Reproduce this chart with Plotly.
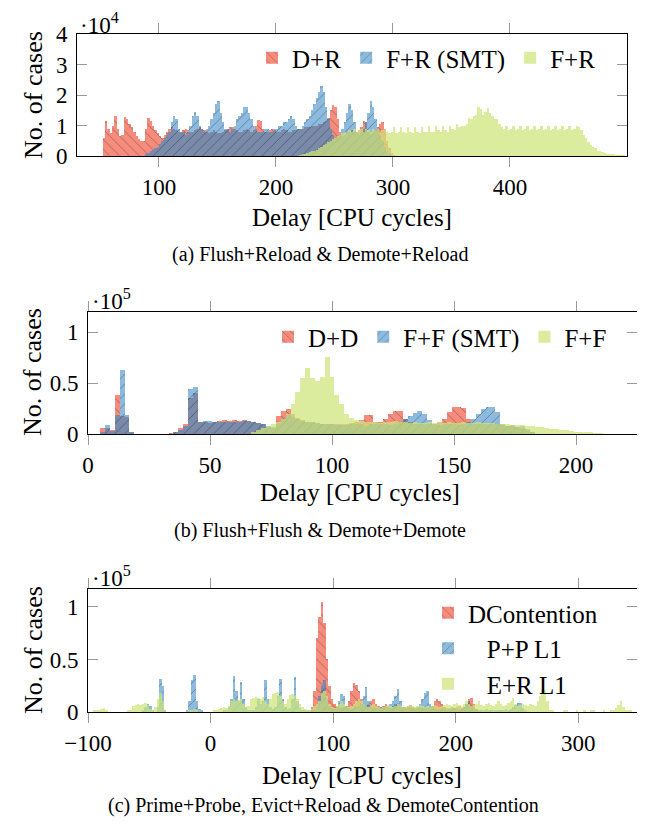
import plotly.graph_objects as go

W, H = 645, 825
BIN = 2
OFF = 8  # the page body margin shifts the figure by this many pixels

# ---------------- Panel (a): values in units of 10^4 ----------------
A_DR_START = 52
A_DR = [0.6, 1.15, 0.9, 0.75, 1.0, 1.3, 0.9, 0.65, 0.7, 1.28,
        1.2, 1.05, 0.95, 0.8, 0.65, 0.55, 0.5, 0.5, 0.9, 1.25,
        1.15, 1.0, 0.85, 0.75, 0.65, 0.6, 0.7, 0.8, 0.9, 0.95,
        0.9, 0.85, 0.8, 0.8, 0.85, 0.9, 0.85, 0.8, 0.8, 0.85,
        0.9, 0.95, 0.9, 0.85, 0.8, 0.75, 0.8, 0.85, 0.8, 0.75,
        0.75, 0.8, 0.85, 0.9, 0.95, 0.95, 0.9, 0.85, 0.8, 0.8,
        0.85, 0.9, 0.85, 0.8, 0.85, 1.0, 1.18, 1.15, 0.9, 0.8,
        0.8, 0.85, 0.9, 0.85, 0.8, 0.8, 0.85, 0.9, 0.85, 0.8,
        0.8, 0.85, 0.85, 0.9, 0.9, 0.9, 0.95, 0.95, 0.95, 1.0,
        1.0, 1.0, 1.05, 1.05, 1.1, 1.15, 1.25, 1.5, 1.68, 1.6,
        1.2, 0.8, 0.65, 0.7, 0.75, 0.8, 0.85, 0.8, 0.8, 0.85,
        0.95, 1.15, 1.1, 0.8, 0.7, 0.75, 0.85, 0.95, 1.05, 1.1,
        0.9, 0.5, 0.25, 0.1, 0.03]

A_FRS_START = 88
A_FRS = [0.05, 0.1, 0.15, 0.2, 0.25, 0.3, 0.4, 0.5, 0.6, 0.7,
         0.8, 1.1, 1.3, 1.2, 0.9, 0.8, 0.8, 0.7, 0.8, 1.0,
         1.3, 1.45, 1.3, 1.0, 0.9, 0.8, 0.9, 1.0, 1.2, 1.4,
         1.7, 1.8, 1.4, 1.1, 0.9, 0.9, 0.8, 0.9, 1.0, 1.2,
         1.3, 1.4, 1.6, 1.6, 1.4, 1.2, 1.0, 0.9, 0.8, 0.8,
         0.8, 0.9, 0.9, 0.8, 0.8, 0.9, 0.9, 1.0, 1.0, 1.1,
         1.1, 1.2, 1.3, 1.2, 1.0, 0.9, 0.9, 1.0, 1.1, 1.2,
         1.3, 1.5, 1.7, 1.9, 2.1, 2.3, 2.1, 1.6, 1.2, 0.9,
         0.7, 0.6, 0.6, 0.7, 0.9, 1.1, 1.4, 1.7, 1.5, 1.1,
         0.8, 0.7, 0.8, 0.9, 1.1, 1.4, 1.8, 1.6, 1.2, 0.9,
         0.7, 0.5, 0.3, 0.15, 0.05]

A_FR_START = 220
A_FR = [0.02, 0.05, 0.08, 0.1, 0.12, 0.15, 0.18, 0.2, 0.25, 0.3,
        0.35, 0.4, 0.45, 0.5, 0.55, 0.6, 0.65, 0.7, 0.75, 0.8,
        0.75, 0.85, 0.8, 0.9, 0.8, 0.85, 0.9, 0.8, 0.9, 0.85,
        0.8, 0.9, 0.85, 0.9, 0.8, 0.85, 0.9, 0.8, 0.75, 0.8,
        0.95, 0.75, 0.8, 0.95, 0.8, 0.75, 0.95, 0.8, 0.75, 0.95,
        0.8, 0.75, 0.95, 0.8, 0.8, 1.0, 0.8, 0.8, 1.0, 0.85,
        0.8, 1.0, 0.85, 0.8, 1.0, 0.9, 0.85, 1.05, 0.95, 1.0,
        1.0, 1.05, 1.25, 1.2, 1.3, 1.35, 1.6, 1.55, 1.35, 1.45,
        1.57, 1.4, 1.3, 1.2, 1.2, 1.05, 0.96, 0.9, 1.0, 0.85,
        0.9, 1.0, 0.85, 0.9, 1.0, 0.85, 0.9, 1.0, 0.85, 0.9,
        1.0, 0.85, 0.9, 1.0, 0.85, 0.9, 1.0, 0.85, 0.9, 1.0,
        0.85, 0.9, 1.0, 0.85, 0.9, 1.0, 0.85, 0.9, 1.0, 0.95,
        0.85, 0.7, 0.6, 0.45, 0.35, 0.3, 0.25, 0.18, 0.15, 0.12,
        0.1, 0.08, 0.06, 0.05, 0.04, 0.03, 0.02, 0.01, 0.01]

# ---------------- Panel (b): values in units of 10^5 ----------------
B_DD_START = 3
B_DD = [0, 0.056, 0.06, 0.04, 0.38, 0.18, 0.17, 0.01, 0, 0,
        0, 0, 0, 0, 0, 0.005, 0.02, 0.06, 0.1, 0.35,
        0.4, 0.12, 0.12, 0.11, 0.12, 0.13, 0.14, 0.13, 0.14, 0.13,
        0.14, 0.13, 0.12, 0.11, 0.1, 0.07, 0.06, 0.18, 0.23, 0.25,
        0.2, 0.16, 0.14, 0.12, 0.12, 0.11, 0.1, 0.1, 0.1, 0.1,
        0.1, 0.1, 0.11, 0.12, 0.14, 0.19, 0.19, 0.12, 0.12, 0.15,
        0.2, 0.23, 0.23, 0.15, 0.12, 0.1, 0.1, 0.1, 0.1, 0.1,
        0.12, 0.15, 0.22, 0.27, 0.27, 0.26, 0.15, 0.1, 0.1, 0.1,
        0.1, 0.1, 0.1, 0.09, 0.08, 0.08, 0.07, 0.06, 0.04, 0.02]

B_FFS_START = 3
B_FFS = [0, 0.02, 0.09, 0.03, 0.19, 0.63, 0.19, 0.01, 0, 0,
         0, 0, 0, 0, 0, 0, 0.01, 0.04, 0.08, 0.44,
         0.46, 0.12, 0.13, 0.13, 0.12, 0.12, 0.12, 0.12, 0.12, 0.12,
         0.13, 0.13, 0.12, 0.11, 0.1, 0.08, 0.07, 0.1, 0.15, 0.19,
         0.17, 0.15, 0.13, 0.12, 0.12, 0.11, 0.1, 0.1, 0.1, 0.09,
         0.09, 0.09, 0.1, 0.1, 0.1, 0.08, 0.1, 0.1, 0.1, 0.1,
         0.09, 0.1, 0.12, 0.15, 0.18, 0.21, 0.23, 0.2, 0.14, 0.1,
         0.09, 0.1, 0.1, 0.1, 0.09, 0.1, 0.12, 0.15, 0.2, 0.25,
         0.27, 0.27, 0.22, 0.1, 0.08, 0.09, 0.07, 0.08, 0.05, 0.01]

B_FF_START = 67
B_FF = [0.02, 0.04, 0.06, 0.08, 0.1, 0.12, 0.15, 0.2, 0.3, 0.41,
        0.55, 0.65, 0.55, 0.52, 0.56, 0.76, 0.56, 0.38, 0.3, 0.2,
        0.16, 0.14, 0.13, 0.12, 0.12, 0.12, 0.11, 0.12, 0.12, 0.13,
        0.12, 0.12, 0.11, 0.12, 0.11, 0.11, 0.12, 0.11, 0.12, 0.11,
        0.12, 0.11, 0.11, 0.12, 0.11, 0.11, 0.12, 0.11, 0.11, 0.11,
        0.1, 0.1, 0.1, 0.09, 0.09, 0.09, 0.08, 0.08, 0.07, 0.07,
        0.06, 0.05, 0.05, 0.04, 0.04, 0.03, 0.02, 0.02, 0.01, 0.01,
        0.005, 0.003]

# ---------------- Panel (c): values in units of 10^5 ----------------
C_DC_START = 82
C_DC = [0.05, 0.2, 0.7, 0.9, 1.05, 0.85, 0.5, 0.25, 0.12, 0.08,
        0.06, 0.05, 0.04, 0.05, 0.06, 0.1, 0.2, 0.28, 0.26, 0.2,
        0.12, 0.08, 0.06, 0.07, 0.1, 0.12, 0.08, 0.06, 0.05, 0.06,
        0.08, 0.05, 0.04, 0.06, 0.08, 0.06, 0.05, 0.04, 0.05, 0.06,
        0.07, 0.05, 0.04, 0.04, 0.05, 0.04, 0.03, 0.04, 0.05, 0.06,
        0.1, 0.12, 0.1, 0.08, 0.05, 0.04, 0.04, 0.03, 0.04, 0.05,
        0.06, 0.04, 0.05, 0.08, 0.12, 0.13, 0.08, 0.03]

C_PP_START = -56
C_PP = [0.02, 0.05, 0.08, 0.06, 0.02, 0, 0.05, 0.31, 0.25, 0.02,
        0, 0, 0, 0, 0, 0, 0, 0, 0.02, 0.1,
        0.3, 0.35, 0.1, 0.03, 0.02, 0, 0, 0, 0, 0,
        0, 0, 0, 0.01, 0.02, 0.05, 0.12, 0.34, 0.2, 0.1,
        0.29, 0.12, 0.05, 0.02, 0.01, 0.02, 0.05, 0.12, 0.08, 0.1,
        0.3, 0.12, 0.05, 0.03, 0.05, 0.15, 0.31, 0.12, 0.05, 0.03,
        0.04, 0.12, 0.33, 0.1, 0.04, 0.02, 0.02, 0.01, 0.01, 0.01,
        0.02, 0.05, 0.15, 0.25, 0.3, 0.12, 0.06, 0.04, 0.03, 0.05,
        0.1, 0.17, 0.15, 0.06, 0.04, 0.03, 0.04, 0.05, 0.06, 0.08,
        0.15, 0.24, 0.1, 0.05, 0.04, 0.03, 0.04, 0.05, 0.04, 0.05,
        0.06, 0.08, 0.1, 0.15, 0.22, 0.1, 0.05, 0.03, 0.04, 0.05,
        0.04, 0.03, 0.05, 0.08, 0.12, 0.18, 0.2, 0.08, 0.04, 0.03,
        0.02, 0.03, 0.04, 0.03, 0.02, 0.03, 0.05, 0.04, 0.03, 0.02,
        0.03, 0.05, 0.08, 0.1, 0.06, 0.03, 0.02, 0.02, 0.01, 0.02,
        0.03, 0.02, 0.01, 0.01, 0.02, 0.01, 0.01, 0.02, 0.03, 0.02,
        0.03, 0.05, 0.07, 0.09, 0.09, 0.04, 0.01]

C_ER_START = -96
C_ER = [0.01, 0.02, 0.01, 0.03, 0.04, 0.01, 0, 0, 0, 0,
        0, 0, 0, 0, 0.01, 0.02, 0.06, 0.07, 0.08, 0.07,
        0.08, 0.09, 0.07, 0.03, 0.02, 0.05, 0.12, 0.18, 0.1, 0.02,
        0, 0, 0, 0, 0, 0, 0, 0, 0, 0.01,
        0.02, 0.03, 0.01, 0, 0, 0, 0, 0, 0, 0.01,
        0.02, 0.03, 0.04, 0.05, 0.04, 0.06, 0.1, 0.12, 0.1, 0.11,
        0.12, 0.08, 0.05, 0.06, 0.12, 0.13, 0.14, 0.13, 0.12, 0.14,
        0.1, 0.08, 0.12, 0.17, 0.18, 0.19, 0.15, 0.1, 0.08, 0.12,
        0.16, 0.17, 0.15, 0.12, 0.08, 0.05, 0.03, 0.02, 0.02, 0.03,
        0.06, 0.08, 0.1, 0.18, 0.2, 0.15, 0.08, 0.05, 0.04, 0.06,
        0.08, 0.1, 0.08, 0.06, 0.05, 0.06, 0.08, 0.1, 0.12, 0.1,
        0.08, 0.06, 0.05, 0.06, 0.08, 0.06, 0.05, 0.04, 0.05, 0.06,
        0.07, 0.06, 0.05, 0.06, 0.08, 0.06, 0.05, 0.05, 0.06, 0.07,
        0.06, 0.05, 0.06, 0.07, 0.06, 0.05, 0.06, 0.05, 0.06, 0.07,
        0.06, 0.05, 0.06, 0.07, 0.08, 0.07, 0.06, 0.08, 0.09, 0.07,
        0.06, 0.08, 0.1, 0.08, 0.06, 0.07, 0.08, 0.1, 0.07, 0.06,
        0.08, 0.09, 0.07, 0.06, 0.08, 0.1, 0.08, 0.06, 0.07, 0.09,
        0.1, 0.13, 0.08, 0.06, 0.07, 0.08, 0.07, 0.06, 0.08, 0.07,
        0.06, 0.1, 0.15, 0.22, 0.21, 0.1, 0.02, 0.01, 0, 0,
        0, 0, 0.01, 0.01, 0, 0, 0, 0.01, 0, 0,
        0.01, 0, 0, 0.01, 0.01, 0, 0, 0, 0.01, 0,
        0, 0.01, 0.02, 0.04, 0.07, 0.1, 0.05, 0.02, 0.01, 0.01]

# ---------------- text ----------------
LEG_A = ["D+R", "F+R (SMT)", "F+R"]
LEG_B = ["D+D", "F+F (SMT)", "F+F"]
LEG_C = ["DContention", "   P+P L1", "   E+R L1"]
CAPTIONS = ["(a) Flush+Reload & Demote+Reload",
            "(b) Flush+Flush & Demote+Demote",
            "(c) Prime+Probe, Evict+Reload & DemoteContention"]
XTITLE = "Delay [CPU cycles]"
YTITLE = "No. of cases"

FONT = "Liberation Serif"
RED = "#F7806F"
BLUE = "#80B4DC"
GREEN = "#CFE57A"
MIXED = "#7A89A8"   # rendering of where the red and blue histograms overlap
HATCH = "rgba(45,45,45,0.9)"


def px(x):
    return (x - OFF) / W


def py(y):
    return 1 - (y - OFF) / H


def centers(start, vals):
    return [start + BIN * i + BIN / 2 for i in range(len(vals))]


fig = go.Figure()

styles = [(RED, "\\", 0.9), (BLUE, "/", 0.9), (GREEN, "", 0.72)]


def hatch(shape):
    return dict(shape=shape, fgcolor=HATCH, fillmode="overlay", size=7, solidity=0.14)


def add_panel(series, names, xa, ya, legend):
    traces = []
    for (start, vals), name, (col, shape, op) in zip(series, names, styles):
        traces.append(go.Bar(
            x=centers(start, vals), y=vals, width=BIN, name=name,
            xaxis=xa, yaxis=ya, legend=legend, legendgroup=legend + name,
            opacity=op,
            marker=dict(color=col, line=dict(width=0),
                        pattern=hatch(shape) if shape else dict(shape="")),
        ))
    # where the two hatched histograms overlap the reference shows a dark blend
    r = dict(zip(centers(*series[0]), series[0][1]))
    b = dict(zip(centers(*series[1]), series[1][1]))
    xs = sorted(set(r) & set(b))
    ov = go.Bar(x=xs, y=[min(r[k], b[k]) for k in xs], width=BIN, xaxis=xa, yaxis=ya,
                showlegend=False, hoverinfo="skip", opacity=0.95,
                marker=dict(color=MIXED, line=dict(width=0), pattern=hatch("/")))
    for t in (traces[0], traces[1], ov, traces[2]):
        fig.add_trace(t)


add_panel([(A_DR_START, A_DR), (A_FRS_START, A_FRS), (A_FR_START, A_FR)], LEG_A, "x", "y", "legend")
add_panel([(B_DD_START, B_DD), (B_FFS_START, B_FFS), (B_FF_START, B_FF)], LEG_B, "x2", "y2", "legend2")
add_panel([(C_DC_START, C_DC), (C_PP_START, C_PP), (C_ER_START, C_ER)], LEG_C, "x3", "y3", "legend3")

tickfont = dict(family=FONT, size=23, color="black")
xcommon = dict(showline=True, linecolor="black", linewidth=1, mirror="allticks",
               ticks="outside", ticklen=10, tickcolor="#9a9a9a", tickwidth=1,
               showgrid=False, zeroline=False, tickfont=tickfont, automargin=False)
ycommon = dict(showline=True, linecolor="black", linewidth=1, mirror="allticks",
               ticks="inside", ticklen=10, tickcolor="#9a9a9a", tickwidth=1,
               showgrid=False, zeroline=False, tickfont=tickfont, ticklabelstandoff=4,
               automargin=False)

doms = {
    "a": dict(x=[px(77), px(627)], y=[py(156), py(34)]),
    "b": dict(x=[px(88), px(637)], y=[py(434), py(312)]),
    "c": dict(x=[px(88), px(637)], y=[py(712), py(589)]),
}

legfont = dict(family=FONT, size=25, color="black")
fig.update_layout(
    template="none",
    width=W, height=H, autosize=False,
    margin=dict(l=0, r=0, t=0, b=0, pad=0, autoexpand=False),
    paper_bgcolor="white", plot_bgcolor="rgba(0,0,0,0)",
    barmode="overlay", bargap=0,
    font=dict(family=FONT, size=23, color="black"),
    showlegend=True,
    xaxis=dict(domain=doms["a"]["x"], anchor="y", range=[30, 500],
               tickvals=[100, 200, 300, 400], **xcommon),
    yaxis=dict(domain=doms["a"]["y"], anchor="x", range=[0, 4],
               tickvals=[0, 1, 2, 3, 4], **ycommon),
    xaxis2=dict(domain=doms["b"]["x"], anchor="y2", range=[0, 225],
                tickvals=[0, 50, 100, 150, 200], **xcommon),
    yaxis2=dict(domain=doms["b"]["y"], anchor="x2", range=[0, 1.2],
                tickvals=[0, 0.5, 1], ticktext=["0", "0.5", "1"], **ycommon),
    xaxis3=dict(domain=doms["c"]["x"], anchor="y3", range=[-100, 348],
                tickvals=[-100, 0, 100, 200, 300],
                ticktext=["\u2212100", "0", "100", "200", "300"], **xcommon),
    yaxis3=dict(domain=doms["c"]["y"], anchor="x3", range=[0, 1.17],
                tickvals=[0, 0.5, 1], ticktext=["0", "0.5", "1"], **ycommon),
    legend=dict(orientation="h", x=px(601), y=py(58), xanchor="right", yanchor="middle",
                bgcolor="rgba(0,0,0,0)", font=legfont, itemwidth=30),
    legend2=dict(orientation="h", x=px(612), y=py(337), xanchor="right", yanchor="middle",
                 bgcolor="rgba(0,0,0,0)", font=legfont, itemwidth=30),
    legend3=dict(orientation="v", x=px(428), y=py(590), xanchor="left", yanchor="top",
                 bgcolor="rgba(0,0,0,0)", font=legfont, itemwidth=30,
                 tracegroupgap=0),
)

ann = []
for (xpx, ypx, exp) in [(78, 23, "4"), (90, 299, "5"), (90, 576, "5")]:
    ann.append(dict(text="\u00b710<sup>%s</sup>" % exp, x=px(xpx), y=py(ypx), xref="paper",
                    yref="paper", xanchor="left", yanchor="middle", showarrow=False,
                    font=dict(family=FONT, size=23, color="black")))
for (xc, yc) in [(33, 95), (33, 372), (33, 650)]:
    ann.append(dict(text=YTITLE, x=px(xc), y=py(yc), xref="paper", yref="paper", textangle=-90,
                    xanchor="center", yanchor="middle", showarrow=False,
                    font=dict(family=FONT, size=26, color="black")))
for (xc, yc) in [(352, 217), (360, 492), (362, 775)]:
    ann.append(dict(text=XTITLE, x=px(xc), y=py(yc), xref="paper", yref="paper",
                    xanchor="center", yanchor="middle", showarrow=False,
                    font=dict(family=FONT, size=25, color="black")))
for cap, (xc, yc) in zip(CAPTIONS, [(320, 255), (320, 530), (323, 805)]):
    ann.append(dict(text=cap, x=px(xc), y=py(yc), xref="paper", yref="paper",
                    xanchor="center", yanchor="middle", showarrow=False,
                    font=dict(family=FONT, size=20, color="black")))
fig.update_layout(annotations=ann)

fig.write_html("out.html")
